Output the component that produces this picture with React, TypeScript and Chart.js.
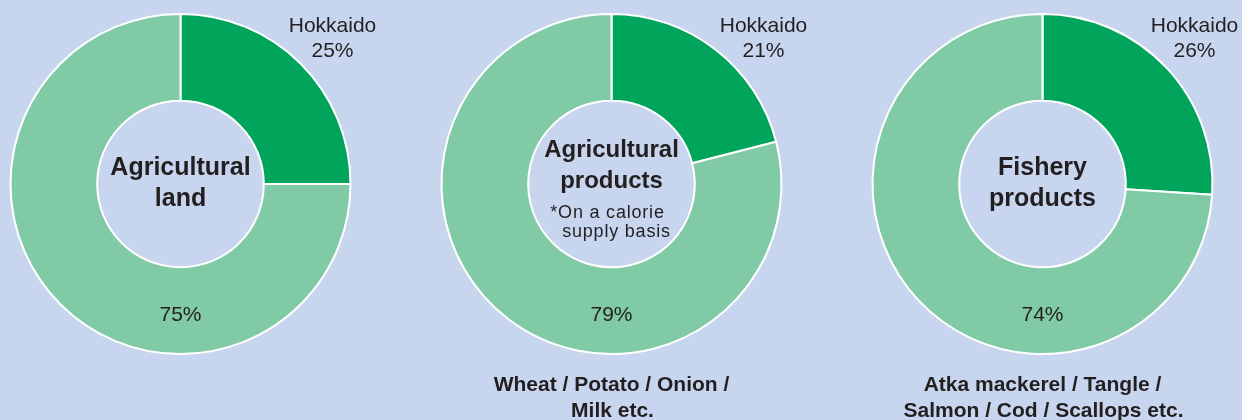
import React, { useEffect, useRef } from "react";
import { Chart, registerables } from "chart.js";

Chart.register(...registerables);

// ---- data ----
const segmentLabels = ["Hokkaido", "Rest of Japan"];
const hokkaidoShares = [25, 21, 26];
const otherShares = [75, 79, 74];
const chartTitles = [
  ["Agricultural", "land"],
  ["Agricultural", "products"],
  ["Fishery", "products"],
];
const chartNotes: string[][] = [[], ["*On a calorie", "supply basis"], []];
const footnotes: string[][] = [
  [],
  ["Wheat / Potato / Onion /", "Milk etc."],
  ["Atka mackerel / Tangle /", "Salmon / Cod / Scallops etc."],
];

const BG = "#c7d5ee";
const DARK = "#00a55b";
const LIGHT = "#80cba6";
const TEXT = "#231f20";
const FONT = "'Liberation Sans', Arial, Helvetica, sans-serif";

function DonutPanel({ index, left }: { index: number; left: number }) {
  const ref = useRef<HTMLCanvasElement | null>(null);
  useEffect(() => {
    if (!ref.current) return;
    const isTwo = index === 1;
    const textPlugin = {
      id: "donutText" + index,
      afterDraw(chart: any) {
        const ctx = chart.ctx as CanvasRenderingContext2D;
        const arc = chart.getDatasetMeta(0).data[0] as any;
        if (!arc) return;
        const cx = arc.x;
        const cy = arc.y;
        ctx.save();
        ctx.fillStyle = TEXT;
        ctx.textAlign = "center";
        ctx.textBaseline = "alphabetic";
        // Hokkaido label
        ctx.font = `21px ${FONT}`;
        ctx.fillText(segmentLabels[0], cx + 152, cy - 152);
        ctx.fillText(hokkaidoShares[index] + "%", cx + 152, cy - 127);
        // rest label
        ctx.fillText(otherShares[index] + "%", cx, cy + 137);
        // title
        const titleSize = isTwo ? 24 : 25;
        ctx.font = `bold ${titleSize}px ${FONT}`;
        const tY = isTwo ? [cy - 27, cy + 4] : [cy - 9, cy + 22];
        chartTitles[index].forEach((t, i) => ctx.fillText(t, cx, tY[i]));
        // notes
        const notes = chartNotes[index];
        if (notes.length) {
          ctx.font = `18px ${FONT}`;
          (ctx as any).letterSpacing = "0.8px";
          ctx.fillText(notes[0], cx - 4, cy + 34);
          ctx.fillText(notes[1], cx + 5, cy + 52.5);
          (ctx as any).letterSpacing = "0px";
        }
        // footnote
        const foot = footnotes[index];
        if (foot.length) {
          ctx.font = `bold 21px ${FONT}`;
          ctx.fillText(foot[0], cx, cy + 207);
          ctx.fillText(foot[1], cx + 1, cy + 233);
        }
        ctx.restore();
      },
    };
    const chart = new Chart(ref.current, {
      type: "doughnut",
      data: {
        labels: segmentLabels,
        datasets: [
          {
            data: [hokkaidoShares[index], otherShares[index]],
            backgroundColor: [DARK, LIGHT],
            borderColor: "#ffffff",
            borderWidth: 2,
            hoverBorderWidth: 2,
            hoverOffset: 0,
          },
        ],
      },
      options: {
        responsive: false,
        animation: false,
        cutout: "49%",
        layout: { padding: { left: 9.5, right: 28.5, top: 13, bottom: 65 } },
        plugins: {
          legend: { display: false },
          tooltip: { enabled: false },
        },
        events: [],
      },
      plugins: [textPlugin],
    });
    return () => chart.destroy();
  }, [index]);
  return (
    <canvas
      ref={ref}
      width={380}
      height={420}
      style={{ position: "absolute", left, top: 0, width: 380, height: 420 }}
    />
  );
}

export default function App() {
  useEffect(() => {
    document.body.style.margin = "0";
    document.body.style.background = BG;
  }, []);
  return (
    <div
      style={{
        position: "absolute",
        left: 0,
        top: 0,
        width: 1242,
        height: 420,
        background: BG,
        overflow: "hidden",
      }}
    >
      <DonutPanel index={0} left={0} />
      <DonutPanel index={1} left={431} />
      <DonutPanel index={2} left={862} />
    </div>
  );
}
